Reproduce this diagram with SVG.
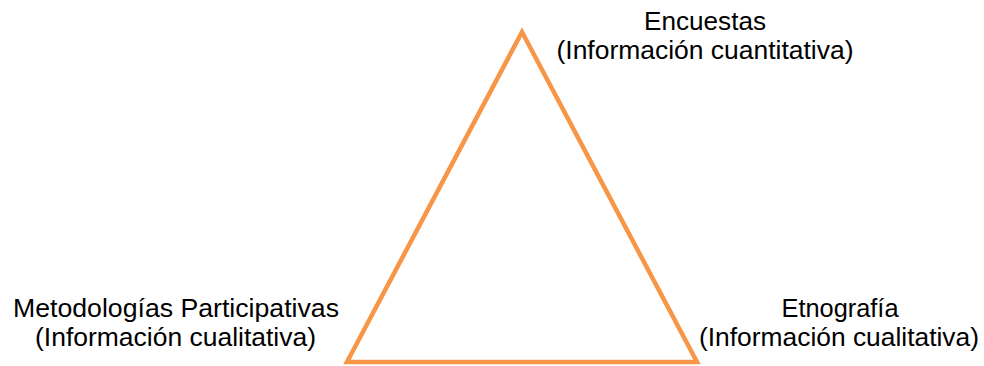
<svg xmlns="http://www.w3.org/2000/svg" width="984" height="366" viewBox="0 0 984 366">
<style>
.t{font-family:"Liberation Sans",Arial,sans-serif;font-size:25px;fill:#000;text-anchor:middle}
.tri{fill:none;stroke:#F79646;stroke-width:4.5;stroke-linejoin:miter}
</style>
<rect width="984" height="366" fill="#fff"/>
<g id="connectors">
<polygon class="tri" points="522,32 347,362 697,362"/>
</g>
<g id="node-encuestas">
<text class="t" x="705" y="30" textLength="122" lengthAdjust="spacingAndGlyphs">Encuestas</text>
<text class="t" x="705" y="59" textLength="297" lengthAdjust="spacingAndGlyphs">(Información cuantitativa)</text>
</g>
<g id="node-metodologias">
<text class="t" x="176" y="317" textLength="326" lengthAdjust="spacingAndGlyphs">Metodologías Participativas</text>
<text class="t" x="175.5" y="346" textLength="281" lengthAdjust="spacingAndGlyphs">(Información cualitativa)</text>
</g>
<g id="node-etnografia">
<text class="t" x="840" y="317" textLength="117" lengthAdjust="spacingAndGlyphs">Etnografía</text>
<text class="t" x="839" y="346" textLength="280" lengthAdjust="spacingAndGlyphs">(Información cualitativa)</text>
</g>
</svg>
